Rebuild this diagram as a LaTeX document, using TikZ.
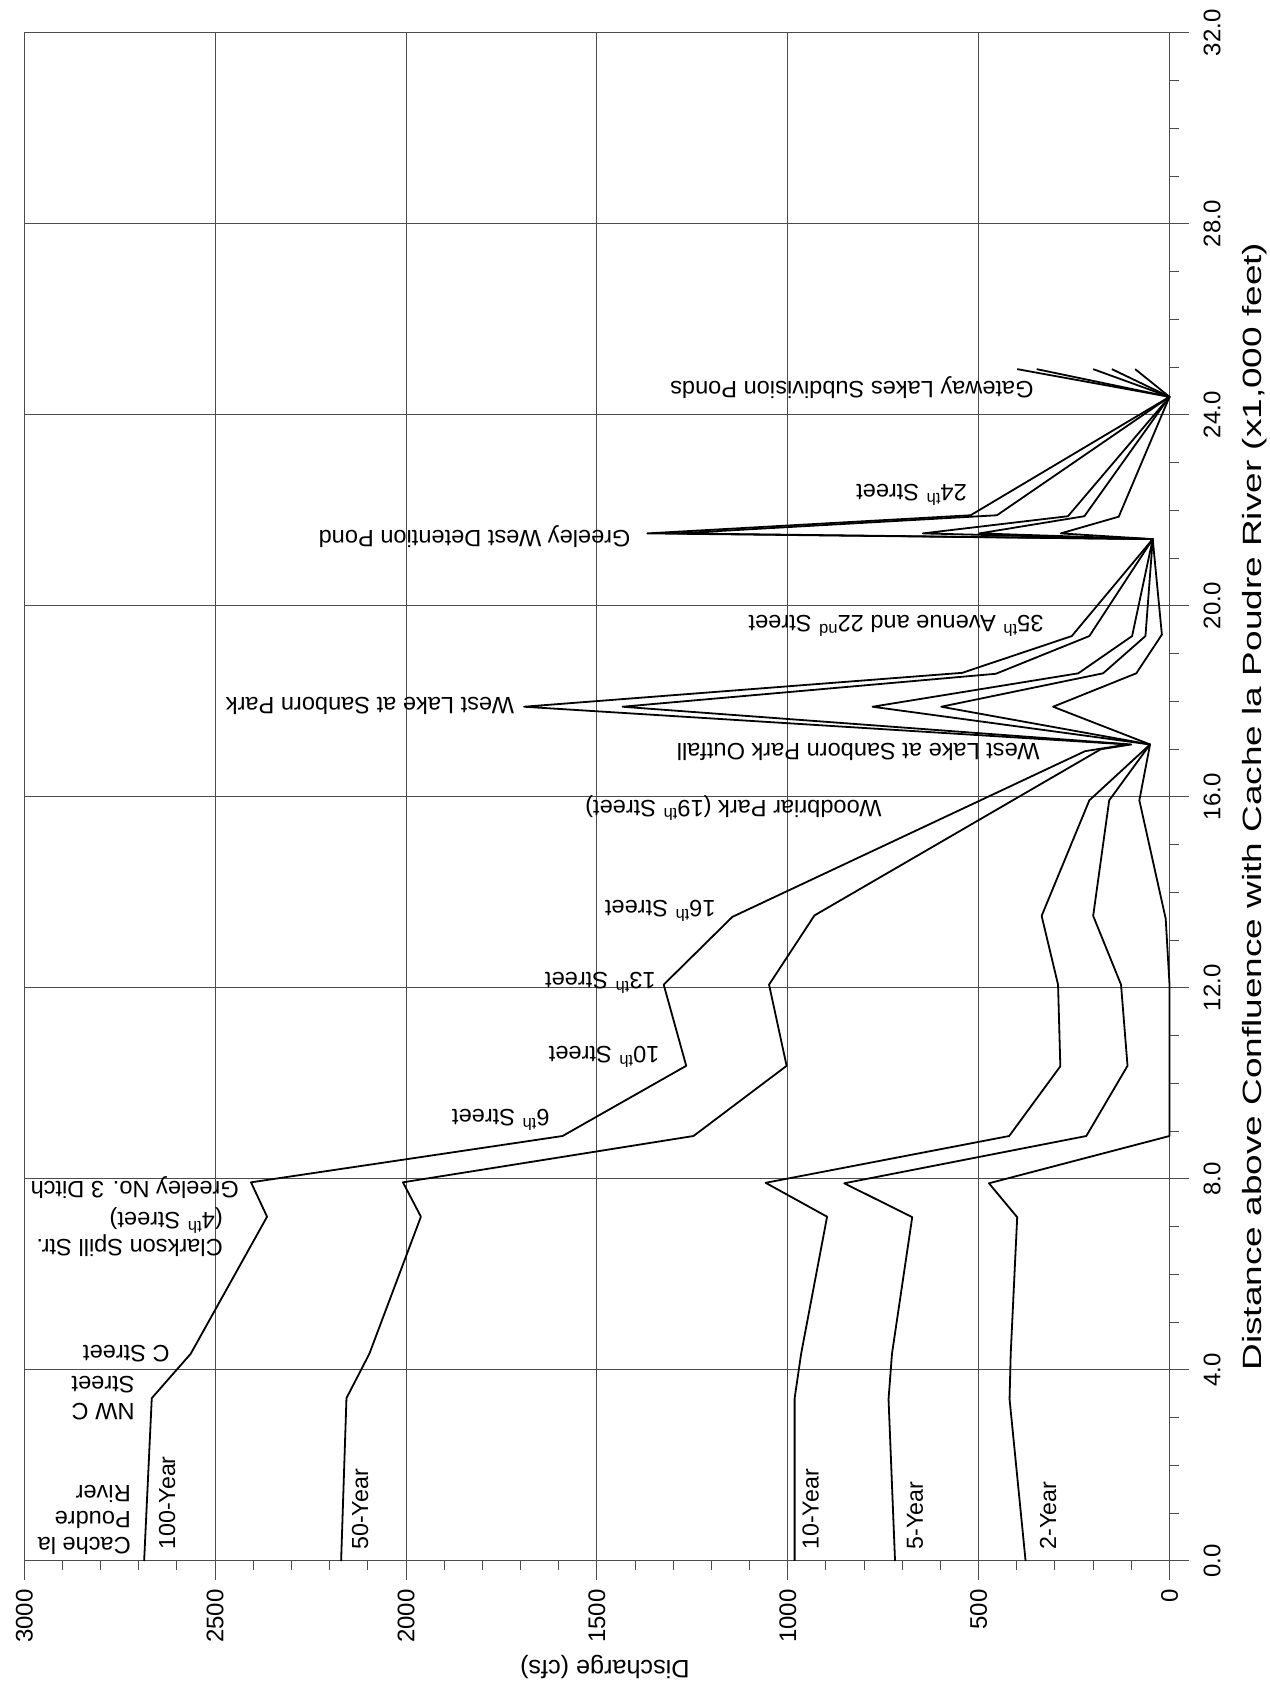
\documentclass[tikz,border=0pt]{standalone}
\usepackage{fontspec}
\setmainfont{Liberation Sans}
\usepackage{graphicx}

\tikzset{
  gridline/.style={draw=black!70, line width=0.5pt},
  curve/.style={draw=black, line width=0.9pt, line join=round},
  station/.style={rotate=180, anchor=west, inner sep=0pt, align=left,
    font=\fontsize{11.8}{13.2}\selectfont},
  yearlabel/.style={rotate=90, anchor=west, inner sep=0pt,
    font=\fontsize{11.6}{13}\selectfont},
  ticklabel/.style={rotate=90, inner sep=0pt,
    font=\fontsize{12}{14}\selectfont}
}

\begin{document}
\begin{tikzpicture}[x = 0.5pt, y = 0.5pt]

  \useasboundingbox (0,0) rectangle (1269,1689);

  \begin{scope}[shift = {(584.75pt,64pt)},
    x = {(-0.190865pt,0pt)},
    y = {(0pt,23.875pt)}]

  \def\qmax{3000}
  \def\dmax{32}

  % grid
  \foreach \q in {0,500,...,\qmax}
  \draw[gridline] (\q,-0.4) -- (\q,\dmax);
  \foreach \d in {0,4,...,\dmax}
  \draw[gridline] (\qmax,\d) -- (-52,\d);

  % minor ticks
  \foreach \q in {100,200,...,2900}
  \draw[gridline] (\q,0) -- (\q,-0.19);
  \foreach \d in {1,2,...,31}
  \draw[gridline] (0,\d) -- (-26,\d);

  % tick labels
  \foreach \q in {0,500,...,\qmax}
  \node[ticklabel, anchor=east] (q\q) at (\q,-0.59) {\q};
  \foreach \d in {0,4,...,\dmax}
  \node[ticklabel, anchor=north] (d\d) at (-88,\d) {\d.0};

  % axis titles
  \node[rotate=180, inner sep=0pt, font=\fontsize{12.6}{14}\selectfont]
  (qtitle) at (1479,-2.22) {Discharge (cfs)};
  \node[rotate=90, inner sep=0pt, font=\fontsize{13.2}{15}\selectfont]
  (dtitle) at (-224,15.8)
  {\scalebox{1.4}[1]{Distance above Confluence with Cache la Poudre River (x1,000 feet)}};

  % 100-year
  \draw[curve] (2686,0) -- (2666,3.41) -- (2564,4.34) -- (2364,7.21)
  -- (2406,7.93) -- (1590,8.90) -- (1266,10.37) -- (1325,12.07)
  -- (1145,13.49) -- (221,16.96) -- (110,17.10) -- (1691,17.89)
  -- (543,18.60) -- (256,19.37) -- (44,21.40) -- (1368,21.52)
  -- (521,21.90) -- (0,24.38) -- (399,24.96);

  % 50-year
  \draw[curve] (2170,0) -- (2156,3.41) -- (2096,4.34) -- (1961,7.21)
  -- (2008,7.93) -- (1247,8.90) -- (1003,10.37) -- (1049,12.07)
  -- (930,13.52) -- (180,17.00) -- (100,17.10) -- (1433,17.89)
  -- (455,18.58) -- (210,19.37) -- (44,21.40) -- (1290,21.52)
  -- (452,21.90) -- (0,24.38) -- (348,24.96);

  % 10-year
  \draw[curve] (982,0) -- (982,3.41) -- (965,4.34) -- (897,7.21)
  -- (1058,7.92) -- (420,8.90) -- (286,10.36) -- (292,12.07)
  -- (335,13.51) -- (210,15.93) -- (51,17.10) -- (778,17.89)
  -- (239,18.59) -- (98,19.37) -- (44,21.40) -- (646,21.52)
  -- (266,21.88) -- (0,24.38) -- (200,24.96);

  % 5-year
  \draw[curve] (719,0) -- (736,3.39) -- (727,4.34) -- (674,7.20)
  -- (852,7.91) -- (218,8.90) -- (110,10.37) -- (127,12.07)
  -- (200,13.51) -- (158,15.93) -- (51,17.10) -- (598,17.89)
  -- (174,18.59) -- (63,19.37) -- (44,21.40) -- (498,21.52)
  -- (223,21.88) -- (0,24.38) -- (151,24.96);

  % 2-year
  \draw[curve] (377,0) -- (419,3.39) -- (416,4.34) -- (399,7.20)
  -- (473,7.91) -- (0,8.90) -- (0,10.37) -- (0,12.07)
  -- (10,13.45) -- (79,15.93) -- (51,17.10) -- (305,17.89)
  -- (87,18.59) -- (20,19.40) -- (44,21.40) -- (285,21.52)
  -- (133,21.87) -- (0,24.38) -- (90,24.96);

  % return periods
  \node[yearlabel] (y100) at (2626,0.23) {100-Year};
  \node[yearlabel] (y50) at (2120,0.23) {50-Year};
  \node[yearlabel] (y10) at (940,0.23) {10-Year};
  \node[yearlabel] (y5) at (667,0.23) {5-Year};
  \node[yearlabel] (y2) at (318,0.23) {2-Year};

  % stations
  \node[station] (cache) at (2720,0.86) {Cache la\\Poudre\\River};
  \node[station] (nwc) at (2710,3.41) {NW C\\Street};
  \node[station] (cst) at (2618,4.34) {C Street};
  \node[station] (clarkson) at (2479,6.89)
  {Clarkson Spill Str.\\(4\textsuperscript{th} Street)};
  \node[station] (ditch) at (2437,7.81) {Greeley No. 3 Ditch};
  \node[station] (st6) at (1623,9.24) {6\textsuperscript{th} Street};
  \node[station] (st10) at (1335,10.55) {10\textsuperscript{th} Street};
  \node[station] (st13) at (1345,12.10) {13\textsuperscript{th} Street};
  \node[station] (st16) at (1188,13.61) {16\textsuperscript{th} Street};
  \node[station] (woodbriar) at (753,15.77)
  {Woodbriar Park (19\textsuperscript{th} Street)};
  \node[station] (outfall) at (339,16.94) {West Lake at Sanborn Park Outfall};
  \node[station] (westlake) at (1716,17.91) {West Lake at Sanborn Park};
  \node[station] (ave35) at (329,19.58)
  {35\textsuperscript{th} Avenue and 22\textsuperscript{nd} Street};
  \node[station] (detention) at (1411,21.45) {Greeley West Detention Pond};
  \node[station] (st24) at (530,22.32) {24\textsuperscript{th} Street};
  \node[station] (gateway) at (355,24.57) {Gateway Lakes Subdivision Ponds};

  \end{scope}
\end{tikzpicture}
\end{document}
